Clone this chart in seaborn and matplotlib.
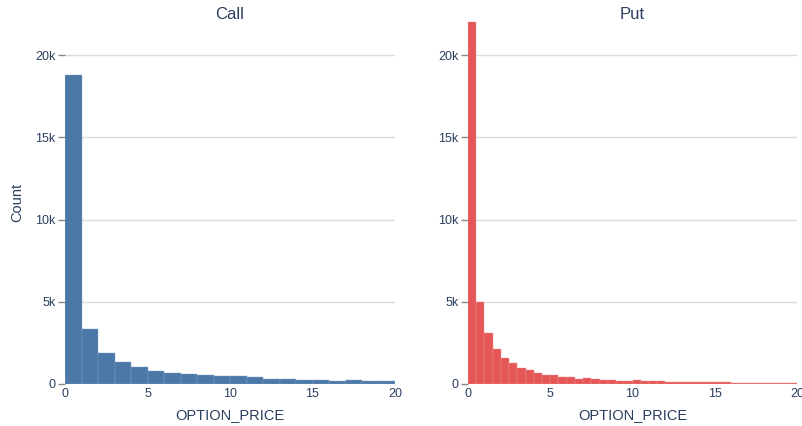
import numpy as np
import pandas as pd
import matplotlib
matplotlib.use("Agg")
import matplotlib.pyplot as plt
from matplotlib.ticker import FuncFormatter
import seaborn as sns

# Binned counts of option prices (bin width 1 for calls, 0.5 for puts)
call_binwidth = 1.0
call_counts = [18790, 3323, 1884, 1317, 1013, 770, 669, 608, 527, 486,
               466, 405, 324, 284, 263, 243, 203, 243, 182, 182]

put_binwidth = 0.5
put_counts = [22000, 5000, 3110, 2155, 1606, 1260, 955, 833, 691, 528,
              528, 447, 447, 325, 386, 305, 264, 264, 203, 203,
              244, 203, 163, 163, 142, 142, 122, 122, 102, 102,
              102, 102, 90, 90, 81, 81, 61, 61, 61, 61]

panel_titles = ["Call", "Put"]
panel_colors = ["#4C78A8", "#E45756"]
edge_colors = ["#7f9fc4", "#ee8e8d"]
y_ticks = [0, 5000, 10000, 15000, 20000]
x_ticks = [0, 5, 10, 15, 20]

sns.set_theme(style="white")
plt.rcParams["font.family"] = ["Liberation Sans", "DejaVu Sans"]
text_color = "#2a3f5f"

fig = plt.figure(figsize=(8.02, 4.26), dpi=100)
W, H = 802, 426
ax_left = fig.add_axes([65 / W, (H - 384) / H, 330 / W, (384 - 20.5) / H])
ax_right = fig.add_axes([468 / W, (H - 384) / H, 329 / W, (384 - 20.5) / H])

panels = [
    (ax_left, call_binwidth, call_counts),
    (ax_right, put_binwidth, put_counts),
]

for i, (ax, bw, counts) in enumerate(panels):
    centers = (np.arange(len(counts)) + 0.5) * bw
    df = pd.DataFrame({"OPTION_PRICE": centers, "n": counts})
    sns.histplot(data=df, x="OPTION_PRICE", weights="n", binwidth=bw,
                 binrange=(0, 20), color=panel_colors[i], alpha=1.0,
                 edgecolor=edge_colors[i], linewidth=0.3, ax=ax)
    ax.set_xlim(0, 20)
    ax.set_ylim(0, 22100)
    ax.set_xticks(x_ticks)
    ax.set_yticks(y_ticks)
    ax.yaxis.set_major_formatter(
        FuncFormatter(lambda v, p: "0" if v == 0 else f"{int(v / 1000)}k"))
    ax.grid(axis="y", color="#dcdcdc", linewidth=1.0)
    ax.set_axisbelow(True)
    for s in ax.spines.values():
        s.set_visible(False)
    ax.tick_params(axis="y", length=5, width=1, color="#888888", pad=2,
                   labelsize=9, labelcolor=text_color, left=True)
    ax.tick_params(axis="x", length=0, pad=3, labelsize=9,
                   labelcolor=text_color)
    ax.set_xlabel("OPTION_PRICE", fontsize=10.5, color=text_color, labelpad=6)
    ax.set_title(panel_titles[i], fontsize=12, color=text_color, pad=1)
    if i == 0:
        ax.set_ylabel("Count", fontsize=10.5, color=text_color, labelpad=8)
    else:
        ax.set_ylabel("")

fig.savefig("out.png", dpi=100)
